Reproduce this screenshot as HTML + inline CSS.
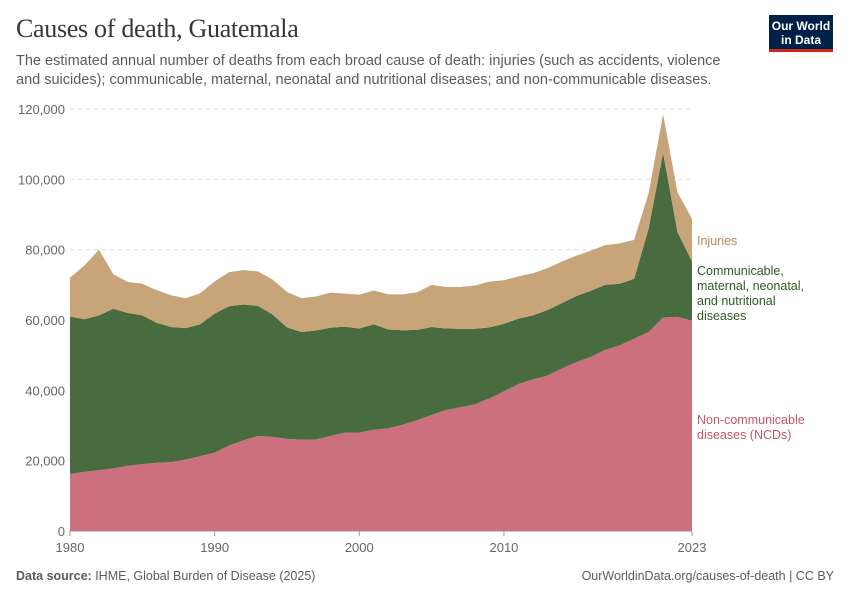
<!DOCTYPE html>
<html><head><meta charset="utf-8"><style>
body{margin:0;width:850px;height:600px;background:#fff;font-family:"Liberation Sans",sans-serif;position:relative;overflow:hidden}
.t{position:absolute;margin:0}
</style></head><body>
<h1 class="t" style="left:16px;top:14px;font-family:'Liberation Serif',serif;font-size:26px;font-weight:normal;color:#373737;letter-spacing:-0.3px">Causes of death, Guatemala</h1>
<p class="t" style="left:16px;top:52px;width:720px;font-size:14.5px;line-height:19px;color:#5b5b5b">The estimated annual number of deaths from each broad cause of death: injuries (such as accidents, violence and suicides); communicable, maternal, neonatal and nutritional diseases; and non-communicable diseases.</p>
<div style="position:absolute;left:769px;top:15px;width:64px;height:37px;background:#002147;border-bottom:3px solid #ce261e;color:#fff;font-size:12px;font-weight:bold;text-align:center;line-height:14px;padding-top:4px;box-sizing:border-box">Our World<br>in Data</div>
<svg id="c" width="850" height="600" style="position:absolute;left:0;top:0"></svg>
<p class="t" style="left:16px;top:569px;font-size:12.5px;color:#5b5b5b"><b>Data source:</b> IHME, Global Burden of Disease (2025)</p>
<p class="t" style="right:16px;top:569px;font-size:12.5px;color:#5b5b5b">OurWorldinData.org/causes-of-death | CC BY</p>
<script>
const years=[1980,1981,1982,1983,1984,1985,1986,1987,1988,1989,1990,1991,1992,1993,1994,1995,1996,1997,1998,1999,2000,2001,2002,2003,2004,2005,2006,2007,2008,2009,2010,2011,2012,2013,2014,2015,2016,2017,2018,2019,2020,2021,2022,2023];
const ncd=[16200,16800,17300,17800,18600,19000,19400,19600,20300,21300,22300,24300,25800,27000,26800,26200,26000,26000,27000,28000,28000,28800,29200,30200,31500,33000,34400,35200,36000,37700,39700,41800,43100,44200,46200,48000,49500,51500,52800,54700,56600,60700,60900,59800];
const communicable=[44800,43400,44000,45400,43400,42300,39800,38400,37400,37500,39500,39600,38600,37000,34800,31700,30600,31000,30800,30100,29600,30000,28100,26900,25700,25000,23200,22300,21500,20200,19200,18600,18200,18600,18600,18800,18800,18500,17500,17000,29400,46800,24100,16800];
const injuries=[11000,15300,18700,9800,8800,9000,9300,9000,8500,8800,9200,9700,9800,9800,9900,10100,9600,9700,10000,9400,9600,9600,10000,10200,10700,12000,11800,11900,12300,13000,12400,12000,12000,11900,11800,11500,11400,11300,11500,11100,10000,11000,11300,12200];
const yTicks=[0,20000,40000,60000,80000,100000,120000];
const xTicks=[1980,1990,2000,2010,2023];
const svg=document.getElementById('c'),NS='http://www.w3.org/2000/svg';
const X=y=>70+(y-1980)*(692-70)/43, Y=v=>531-v*(531-109)/120000;
function el(t,a){const e=document.createElementNS(NS,t);for(const k in a)e.setAttribute(k,a[k]);svg.appendChild(e);return e}
yTicks.forEach(v=>{
 const l=el('line',{x1:70,x2:692,y1:Y(v),y2:Y(v),stroke:v?'#ddd':'#999','stroke-dasharray':v?'4,4':'none'});
 
 
 const t=el('text',{x:65,y:Y(v)+5,'text-anchor':'end','font-size':13,fill:'#666','font-family':'Liberation Sans'});
 t.textContent=v.toLocaleString('en-US');
 
 
});
const base=years.map(()=>0);
const layers=[[ncd,'#cc707f','ncd-area'],[communicable,'#486c40','communicable-area'],[injuries,'#c8a479','injuries-area']];
layers.forEach(([vals,col,name])=>{
 const top=base.map((b,i)=>b+vals[i]);
 let d='M'+years.map((y,i)=>X(y)+','+Y(top[i])).join('L');
 for(let i=years.length-1;i>=0;i--)d+='L'+X(years[i])+','+Y(base[i]);
 const p=el('path',{d:d+'Z',fill:col});
 
 
 top.forEach((v,i)=>base[i]=v);
});
xTicks.forEach(y=>{
 el('line',{x1:X(y),x2:X(y),y1:531,y2:536,stroke:'#999'});
 const t=el('text',{x:X(y),y:552,'text-anchor':'middle','font-size':13,fill:'#666','font-family':'Liberation Sans'});
 t.textContent=y;
 
 
});
const legends=[[['Injuries'],245,'#b5895a','label-injuries'],[['Communicable,','maternal, neonatal,','and nutritional','diseases'],275,'#2e5a23','label-communicable'],[['Non-communicable','diseases (NCDs)'],424,'#c4566a','label-ncd']];
legends.forEach(([lines,y0,col,name])=>{
 const t=el('text',{x:697,y:y0,'font-size':12.5,fill:col,'font-family':'Liberation Sans'});
 lines.forEach((s,i)=>{const ts=document.createElementNS(NS,'tspan');ts.setAttribute('x',697);ts.setAttribute('dy',i?15:0);ts.textContent=s;t.appendChild(ts);});
 
 
});
</script>
</body></html>
